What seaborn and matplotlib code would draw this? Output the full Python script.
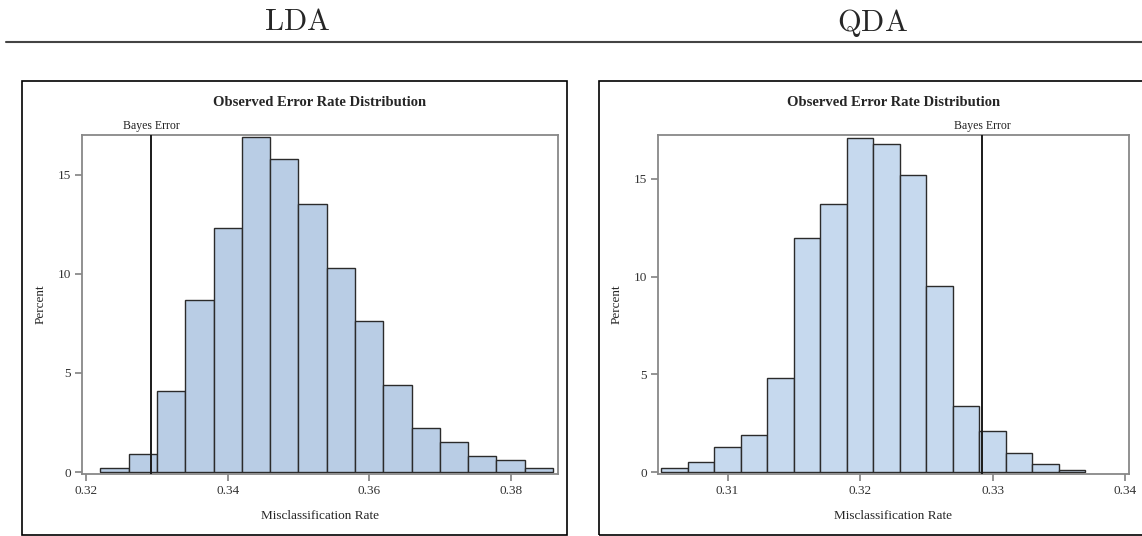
import numpy as np
import matplotlib
matplotlib.use('Agg')
import matplotlib.pyplot as plt
import seaborn as sns
from matplotlib.patches import Rectangle
from matplotlib.lines import Line2D


# bin edges and bar heights (percent)
lda_edges = [0.322, 0.326, 0.330, 0.334, 0.338, 0.342, 0.346, 0.350, 0.354,
             0.358, 0.362, 0.366, 0.370, 0.374, 0.378, 0.382, 0.386]
lda_pct = [0.2, 0.9, 4.1, 8.7, 12.3, 16.9, 15.8, 13.5, 10.3, 7.6, 4.4, 2.2, 1.5, 0.8, 0.6, 0.2]

qda_edges = [0.305, 0.307, 0.309, 0.311, 0.313, 0.315, 0.317, 0.319, 0.321,
             0.323, 0.325, 0.327, 0.329, 0.331, 0.333, 0.335, 0.337]
qda_pct = [0.2, 0.5, 1.3, 1.9, 4.8, 12.0, 13.7, 17.1, 16.8, 15.2, 9.5, 3.4, 2.1, 1.0, 0.4, 0.1]

bayes_error = 0.3292

lda_xticks = [0.32, 0.34, 0.36, 0.38]
lda_xlabels = ['0.32', '0.34', '0.36', '0.38']
qda_xticks = [0.31, 0.32, 0.33, 0.34]
qda_xlabels = ['0.31', '0.32', '0.33', '0.34']
yticks = [0, 5, 10, 15]

panel_names = ['LDA', 'QDA']

sns.set_style('white')
plt.rcParams['font.family'] = ['Liberation Serif', 'DejaVu Serif']
plt.rcParams['mathtext.fontset'] = 'cm'

W, H = 1142, 536
fig = plt.figure(figsize=(W / 100, H / 100), dpi=100)


def px_axes(x0, y0, x1, y1):
    # pixel box (top-left origin) -> figure fraction
    return [x0 / W, 1 - y1 / H, (x1 - x0) / W, (y1 - y0) / H]


def draw_panel(ax, edges, pct, color, xlim, ylim, xticks, xlabels):
    centers = [(a + b) / 2 for a, b in zip(edges[:-1], edges[1:])]
    sns.histplot(x=centers, weights=pct, bins=edges, stat='count', ax=ax,
                 color=color, alpha=1, edgecolor='#2b2b2b', linewidth=1.0)
    ax.axvline(bayes_error, color='#1a1a1a', lw=1.4, zorder=5)
    ax.text(bayes_error, ylim[1] + 0.15, 'Bayes Error', ha='center', va='bottom',
            fontsize=8.5, color='#222222')
    ax.set_xlim(*xlim)
    ax.set_ylim(*ylim)
    ax.set_xticks(xticks)
    ax.set_xticklabels(xlabels)
    ax.set_yticks(yticks)
    ax.set_yticklabels([str(v) for v in yticks])
    ax.tick_params(axis='both', which='major', length=5, width=1.1, color='#777777',
                   labelsize=9.5, labelcolor='#333333', pad=3, bottom=True, left=True)
    for sp in ax.spines.values():
        sp.set_color('#888888')
        sp.set_linewidth(1.3)
    ax.set_xlabel('Misclassification Rate', fontsize=9.5, labelpad=9)
    ax.set_ylabel('Percent', fontsize=9.5, labelpad=8)
    ax.text(0.5, 1 + 33 / 339, 'Observed Error Rate Distribution', transform=ax.transAxes,
            ha='center', va='center', fontsize=10.5, fontweight='bold')


ax1 = fig.add_axes(px_axes(82, 135, 558, 474))
draw_panel(ax1, lda_edges, lda_pct, '#b9cde5', (0.3194, 0.3867), (-0.1, 17.0),
           lda_xticks, lda_xlabels)

ax2 = fig.add_axes(px_axes(658, 135, 1129, 474))
draw_panel(ax2, qda_edges, qda_pct, '#c6d9ee', (0.30475, 0.3403), (-0.1, 17.25),
           qda_xticks, qda_xlabels)

# outer frames around each panel
for x0, x1 in [(22, 567), (599, 1160)]:
    b = px_axes(x0, 81, x1, 535)
    fig.patches.append(Rectangle((b[0], b[1]), b[2], b[3], transform=fig.transFigure,
                                 fill=False, edgecolor='black', lw=1.2))

# header with rule
fig.lines.append(Line2D([6 / W, 1.0], [1 - 42 / H] * 2, transform=fig.transFigure,
                        color='#444444', lw=1.5))
for name, cx in zip(panel_names, [297, 872]):
    fig.text(cx / W, 1 - 23 / H, r'$\mathrm{%s}$' % name, ha='center', va='center',
             fontsize=22)

fig.savefig('out.png', dpi=100)
